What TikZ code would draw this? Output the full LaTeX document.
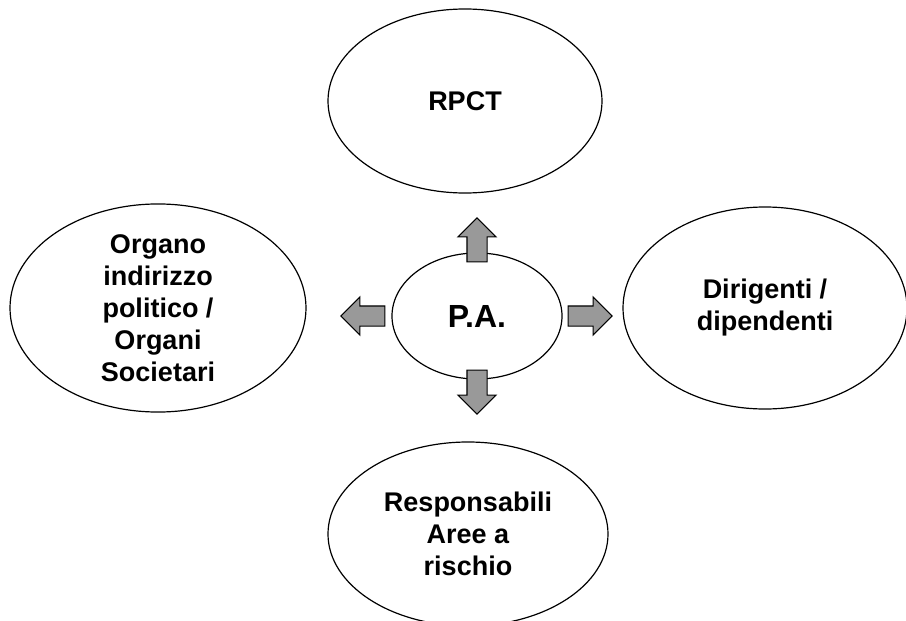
\documentclass[tikz,border=0pt]{standalone}
\usepackage{fontspec}
\setmainfont{Liberation Sans}
\usetikzlibrary{shapes.geometric,shapes.arrows}

\tikzset{
  bubble/.style={draw, ellipse, line width=1.2pt, inner sep=0pt, align=center,
    font=\fontsize{27}{32}\selectfont\bfseries},
  blockarrow/.style={single arrow, draw, fill=black!40, line width=1.1pt,
    inner xsep=0pt, inner ysep=9.5pt, minimum height=44pt, minimum width=37pt,
    single arrow head extend=9pt, single arrow tip angle=90},
}

\begin{document}
\begin{tikzpicture}[x=1pt, y=-1pt]
    \useasboundingbox (0, 0) rectangle (906, 621);
    \node[bubble, minimum width=274pt, minimum height=184pt] (rpct) at (465, 101)
      {RPCT};
    \node[bubble, minimum width=296pt, minimum height=202pt] (organo) at (158, 308)
      {Organo\\indirizzo\\politico /\\Organi\\Societari};
    \node[bubble, minimum width=284pt, minimum height=202pt] (dirigenti) at (765, 308)
      {Dirigenti /\\dipendenti};
    \node[bubble, minimum width=280pt, minimum height=184pt] (resp) at (468, 534)
      {Responsabili\\Aree a\\rischio};
    \node[bubble, minimum width=170pt, minimum height=126pt,
      font=\fontsize{32}{36}\selectfont\bfseries] (pa) at (477, 316) {P.A.};

    \node[blockarrow, rotate=90, anchor=tail] (up) at ([yshift=-10pt]pa.north) {};
    \node[blockarrow, rotate=-90, anchor=tail] (down) at ([yshift=10pt]pa.south) {};
    \node[blockarrow, rotate=180, anchor=tail] (left) at ([xshift=-6pt]pa.west) {};
    \node[blockarrow, anchor=tail] (right) at ([xshift=5pt]pa.east) {};
  \end{tikzpicture}
\end{document}
